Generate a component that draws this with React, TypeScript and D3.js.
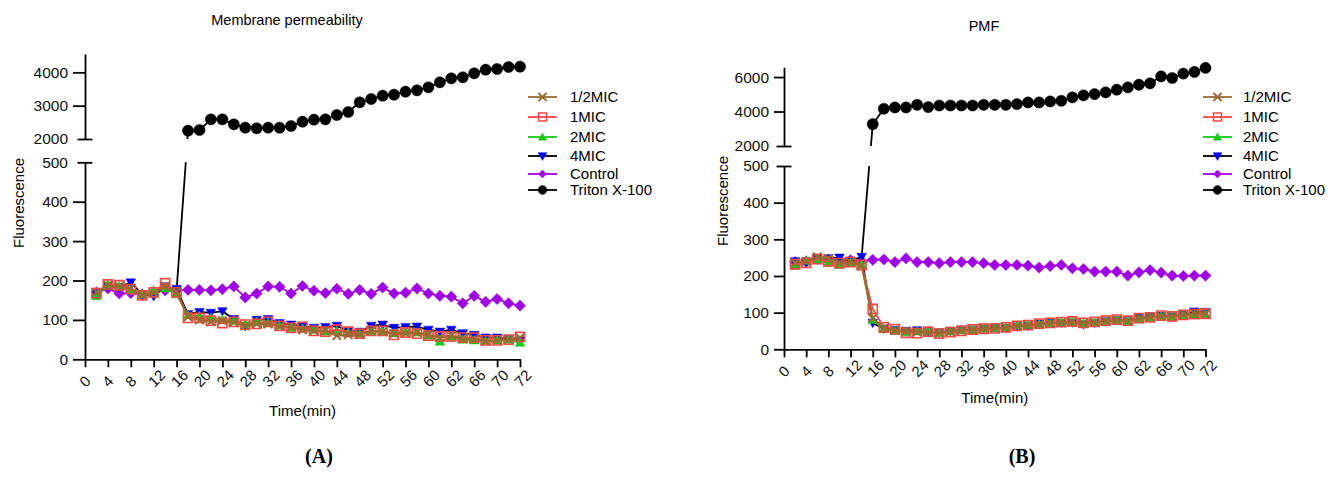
import React, { useEffect, useRef } from "react";
import * as d3 from "d3";

// x positions on the category axis (one sample between each pair of labelled ticks)
const sampleIdx = [0.5, 1, 1.5, 2, 2.5, 3, 3.5, 4, 4.5, 5, 5.5, 6, 6.5, 7, 7.5, 8, 8.5, 9, 9.5, 10,
  10.5, 11, 11.5, 12, 12.5, 13, 13.5, 14, 14.5, 15, 15.5, 16, 16.5, 17, 17.5, 18, 18.5, 19];
const tickLabels = ["0", "4", "8", "12", "16", "20", "24", "28", "32", "36", "40", "44", "48",
  "52", "56", "60", "62", "66", "70", "72"];
const legendNames = ["1/2MIC", "1MIC", "2MIC", "4MIC", "Control", "Triton X-100"];

// (A) membrane permeability
const memHalf = [170, 188, 185, 180, 163, 168, 185, 172, 108, 100, 95, 98, 94, 85, 90, 90, 84, 82,
  75, 72, 73, 60, 62, 63, 72, 70, 65, 66, 68, 62, 55, 60, 52, 52, 46, 48, 50, 55];
const memOne = [168, 190, 188, 178, 162, 170, 193, 170, 105, 105, 98, 92, 95, 88, 90, 95, 85, 80,
  82, 72, 70, 75, 70, 65, 72, 72, 62, 68, 65, 60, 58, 58, 55, 55, 48, 48, 50, 57];
const memTwo = [160, 190, 185, 175, 165, 175, 180, 165, 112, 110, 105, 100, 98, 90, 95, 92, 86, 80,
  78, 75, 70, 72, 68, 65, 70, 70, 66, 70, 68, 60, 45, 55, 50, 48, 46, 48, 50, 42];
const memFour = [165, 185, 183, 195, 165, 160, 185, 178, 115, 120, 118, 122, 102, 84, 100, 102, 92, 88,
  85, 80, 82, 85, 72, 70, 85, 88, 80, 82, 83, 75, 70, 75, 66, 62, 55, 55, 52, 48];
const memControl = [170, 180, 167, 168, 165, 170, 175, 175, 176, 176, 175, 178, 185, 157, 167, 185, 184, 167,
  186, 174, 168, 179, 166, 176, 166, 182, 167, 169, 180, 167, 161, 159, 142, 161, 146, 153, 142, 136];
const memTriton = [null, null, null, null, null, null, null, 175,
  2250, 2270, 2590, 2590, 2440, 2340, 2320, 2340, 2340, 2390,
  2520, 2580, 2590, 2720, 2810, 3100, 3200, 3300, 3330, 3420,
  3460, 3550, 3700, 3820, 3850, 3970, 4080, 4100, 4160, 4170];

// (B) PMF
const pmfHalf = [236, 240, 252, 248, 236, 238, 228, 85, 58, 52, 50, 47, 46, 45, 48, 51, 53, 56,
  58, 60, 63, 66, 68, 71, 73, 75, 72, 74, 77, 80, 78, 84, 88, 90, 90, 95, 97, 98];
const pmfOne = [232, 236, 246, 240, 235, 238, 230, 110, 60, 55, 45, 44, 48, 43, 47, 50, 54, 56,
  57, 60, 64, 66, 70, 72, 74, 76, 72, 75, 78, 81, 78, 85, 87, 92, 90, 94, 96, 97];
const pmfTwo = [228, 242, 244, 236, 230, 236, 232, 80, 55, 50, 47, 49, 50, 45, 49, 52, 53, 57,
  58, 60, 65, 67, 69, 70, 74, 74, 70, 73, 76, 79, 76, 82, 86, 90, 88, 92, 94, 95];
const pmfFour = [240, 235, 248, 248, 250, 242, 252, 72, 56, 53, 50, 52, 46, 46, 50, 54, 52, 56,
  58, 58, 62, 64, 70, 72, 72, 73, 68, 72, 76, 79, 76, 86, 88, 91, 90, 94, 103, 102];
const pmfControl = [238, 240, 246, 244, 240, 243, 240, 244, 245, 238, 248, 238, 238, 235, 238, 238, 238, 235,
  230, 230, 230, 228, 223, 227, 230, 221, 219, 212, 212, 212, 201, 210, 216, 209, 201, 200, 201, 201];
const pmfTriton = [null, null, null, null, null, null, 252,
  3265, 4160, 4235, 4235, 4390, 4255, 4350, 4350, 4350, 4350,
  4390, 4390, 4390, 4430, 4525, 4525, 4585, 4625, 4820, 4935,
  5010, 5110, 5265, 5400, 5555, 5635, 6040, 5945, 6200, 6295, 6530];

const FONT = "'Liberation Sans', Arial, Helvetica, sans-serif";

// styles, index matches legendNames
const styles = [
  { marker: "x", color: "#9a6b30", line: "#9a6b30", r: 4.2, lr: 4 },
  { marker: "square", color: "#ff4646", line: "#ff4646", r: 4.6, lr: 4 },
  { marker: "up", color: "#19c819", line: "#19c819", r: 4.8, lr: 4.2 },
  { marker: "down", color: "#0000ff", line: "#000", r: 4.8, lr: 4.4 },
  { marker: "diamond", color: "#a000e6", line: "#a000e6", r: 5.6, lr: 4 },
  { marker: "circle", color: "#000", line: "#000", r: 5.6, lr: 4.4 },
];

const markerPath = (type, r) => {
  switch (type) {
    case "circle":
      return d3.symbol(d3.symbolCircle, Math.PI * r * r)();
    case "square":
      return `M${-r},${-r}h${2 * r}v${2 * r}h${-2 * r}Z`;
    case "up":
      return `M0,${-r}L${r},${r * 0.75}L${-r},${r * 0.75}Z`;
    case "down":
      return `M0,${r}L${r},${-r * 0.75}L${-r},${-r * 0.75}Z`;
    case "diamond":
      return `M0,${-r}L${r},0L0,${r}L${-r},0Z`;
    default:
      return `M${-r},${-r}L${r},${r}M${r},${-r}L${-r},${r}`;
  }
};

const panels = [
  {
    id: "A", title: "Membrane permeability", titleX: 287, titleY: 25,
    x0: 85, x1: 520, bot0: 359.3, bot500: 162.3, top2000: 139, topEnd: 54, topMax: 4550,
    topTicks: [2000, 3000, 4000], tickLen: 12,
    legendX: 528, textX: 570, ylabX: 19, ylabY: 203, timeY: 416, letterX: 319,
    series: [memHalf, memOne, memTwo, memFour, memControl, memTriton],
  },
  {
    id: "B", title: "PMF", titleX: 984, titleY: 31,
    x0: 784, x1: 1205.5, bot0: 349.3, bot500: 166, top2000: 146, topEnd: 67.3, topMax: 6565,
    topTicks: [2000, 4000, 6000], tickLen: 10,
    legendX: 1203, textX: 1243, ylabX: 723, ylabY: 201, timeY: 403, letterX: 1022,
    series: [pmfHalf, pmfOne, pmfTwo, pmfFour, pmfControl, pmfTriton],
  },
];
const legendRows = [97, 117, 137, 156, 174, 190];

const drawPanel = (svg, p) => {
  const x = d3.scaleLinear().domain([0, 19]).range([p.x0, p.x1]);
  const yBot = d3.scaleLinear().domain([0, 500]).range([p.bot0, p.bot500]);
  const yTop = d3.scaleLinear().domain([2000, p.topMax]).range([p.top2000, p.topEnd]);
  const yMap = (v) => (v > 1000 ? yTop(v) : yBot(v));

  const g = svg.append("g").attr("font-family", FONT);

  // clip lines so the gap of the broken axis stays empty
  const clipId = "clip" + p.id;
  const clip = g.append("clipPath").attr("id", clipId);
  clip.append("rect").attr("x", p.x0 - 20).attr("y", 0).attr("width", p.x1 - p.x0 + 60).attr("height", p.top2000);
  clip.append("rect").attr("x", p.x0 - 20).attr("y", p.bot500).attr("width", p.x1 - p.x0 + 60).attr("height", p.bot0 - p.bot500 + 20);

  // title
  g.append("text").attr("x", p.titleX).attr("y", p.titleY).attr("text-anchor", "middle")
    .attr("font-size", 14.5).text(p.title);

  // y axes
  const styleAxis = (sel) => {
    sel.selectAll("path.domain").attr("stroke-width", 1.8);
    sel.selectAll(".tick line").attr("stroke-width", 1.8);
    sel.selectAll(".tick text").attr("font-size", 15.5).attr("font-family", FONT).attr("fill", "#111");
  };
  const botAxis = g.append("g").attr("transform", `translate(${p.x0},0)`)
    .call(d3.axisLeft(yBot).tickValues([0, 100, 200, 300, 400, 500]).tickFormat(d3.format("d"))
      .tickSize(p.tickLen).tickSizeOuter(0).tickPadding(5));
  styleAxis(botAxis);
  botAxis.selectAll(".tick").filter((d) => d === 500).select("line").attr("x1", 7.5).attr("x2", -7.5);

  const topAxis = g.append("g").attr("transform", `translate(${p.x0},0)`)
    .call(d3.axisLeft(yTop).tickValues(p.topTicks).tickFormat(d3.format("d"))
      .tickSize(p.tickLen).tickSizeOuter(0).tickPadding(5));
  styleAxis(topAxis);
  topAxis.selectAll(".tick").filter((d) => d === 2000).select("line").attr("x1", 7.5).attr("x2", -7.5);

  // x axis
  const xAxis = g.append("g").attr("transform", `translate(0,${p.bot0})`)
    .call(d3.axisBottom(x).tickValues(d3.range(tickLabels.length)).tickSize(8).tickSizeOuter(0).tickFormat(() => ""));
  xAxis.selectAll("path.domain").attr("stroke-width", 1.8);
  xAxis.selectAll(".tick line").attr("stroke-width", 1.8);

  g.append("g").selectAll("text").data(tickLabels).join("text")
    .attr("transform", (d, i) => `translate(${x(i) - 3},${p.bot0 + 25}) rotate(-45)`)
    .attr("dy", "0.35em").attr("font-size", 15).attr("fill", "#111").text((d) => d);

  g.append("text").attr("x", (p.x0 + p.x1) / 2).attr("y", p.timeY).attr("text-anchor", "middle")
    .attr("font-size", 15).text("Time(min)");

  g.append("text").attr("transform", `translate(${p.ylabX},${p.ylabY}) rotate(-90)`)
    .attr("text-anchor", "middle").attr("dy", "0.35em").attr("font-size", 15).text("Fluorescence");

  // series, drawn so that 1/2MIC ends up on top
  const order = [5, 4, 3, 2, 1, 0];
  order.forEach((si) => {
    const st = styles[si];
    const pts = sampleIdx.map((t, i) => ({ t, v: p.series[si][i] })).filter((d) => d.v != null);
    const line = d3.line().x((d) => x(d.t)).y((d) => yMap(d.v));
    g.append("path").datum(pts).attr("d", line).attr("fill", "none")
      .attr("stroke", st.line).attr("stroke-width", si === 0 ? 2.2 : 1.8)
      .attr("clip-path", `url(#${clipId})`);
    // Triton's low starting point sits under the other markers, so no marker there
    const shown = si === 5 ? pts.filter((d) => d.v > 1000) : pts;
    const filled = st.marker !== "x" && st.marker !== "square";
    g.append("g").selectAll("path").data(shown).join("path")
      .attr("transform", (d) => `translate(${x(d.t)},${yMap(d.v)})`)
      .attr("d", markerPath(st.marker, st.r))
      .attr("fill", filled ? st.color : "none")
      .attr("stroke", st.color)
      .attr("stroke-width", filled ? 0.5 : st.marker === "x" ? 2 : 1.6);
  });

  // legend
  legendNames.forEach((name, i) => {
    const st = styles[i];
    const y = legendRows[i];
    const lg = g.append("g");
    lg.append("line").attr("x1", p.legendX).attr("x2", p.legendX + 29).attr("y1", y).attr("y2", y)
      .attr("stroke", st.line).attr("stroke-width", 1.8);
    const filled = st.marker !== "x" && st.marker !== "square";
    lg.append("path").attr("transform", `translate(${p.legendX + 14.5},${y})`)
      .attr("d", markerPath(st.marker, st.lr))
      .attr("fill", filled ? st.color : "none").attr("stroke", st.color)
      .attr("stroke-width", filled ? 0.5 : st.marker === "x" ? 1.8 : 1.5);
    lg.append("text").attr("x", p.textX).attr("y", y).attr("dy", "0.36em")
      .attr("font-size", 15).text(name);
  });

  // panel letter
  g.append("text").attr("x", p.letterX).attr("y", 463).attr("text-anchor", "middle")
    .attr("font-family", "'Liberation Serif', 'Times New Roman', serif").attr("font-size", 20)
    .attr("font-weight", "bold").text(`(${p.id})`);
};

const App = () => {
  const ref = useRef(null);
  useEffect(() => {
    document.body.style.margin = "0";
    const svg = d3.select(ref.current);
    svg.selectAll("*").remove();
    panels.forEach((p) => drawPanel(svg, p));
  }, []);

  return (
    <svg ref={ref} width={1335} height={487} viewBox="0 0 1335 487"
      style={{ display: "block", background: "#fff" }} />
  );
};

export default App;
